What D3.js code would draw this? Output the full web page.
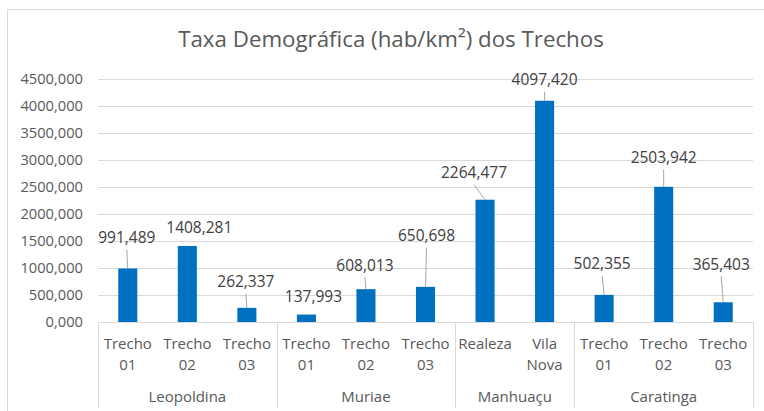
<!DOCTYPE html>
<meta charset="utf-8">
<head>
  <title>Taxa Demográfica</title>
</head>
<style>
  body {
    margin: 0;
    font-family: "Open Sans", sans-serif;
    background: #fff;
  }
  .grid line { stroke: #d9d9d9; }
  .grid .domain { display: none; }
  .ytick text { fill: #595959; font-size: 14.7px; }
  .bar { fill: #0070c0; }
  .lbl { fill: #404040; font-size: 15.5px; }
  .leader { stroke: #a6a6a6; stroke-width: 1; }
  .cat { fill: #595959; font-size: 15px; }
  .frame { stroke: #d9d9d9; fill: none; }
</style>
<body>
<svg width="764" height="411"></svg>
<script src="https://cdn.jsdelivr.net/npm/d3@7"></script>
<script>
// data
var categories = ["Trecho 01", "Trecho 02", "Trecho 03",
                  "Trecho 01", "Trecho 02", "Trecho 03",
                  "Realeza", "Vila Nova",
                  "Trecho 01", "Trecho 02", "Trecho 03"];
var groups = ["Leopoldina", "Leopoldina", "Leopoldina",
              "Muriae", "Muriae", "Muriae",
              "Manhuaçu", "Manhuaçu",
              "Caratinga", "Caratinga", "Caratinga"];
var values = [991.489, 1408.281, 262.337,
              137.993, 608.013, 650.698,
              2264.477, 4097.420,
              502.355, 2503.942, 365.403];
var yTicks = [0, 500, 1000, 1500, 2000, 2500, 3000, 3500, 4000, 4500];

// manual label placement (px from bar top centre, leader line yes/no), as in the original
var labelShift = [[-1, -31, 1], [12, -19, 0], [-1, -26, 1],
                  [7, -18, 0], [-1, -24, 1], [1, -51, 1],
                  [-11, -27, 1], [0, -21, 1],
                  [-2, -31, 1], [0, -29, 1], [-2, -38, 1]];

var ptBR = d3.formatLocale({decimal: ",", thousands: "", grouping: [3], currency: ["R$", ""]});
var fmt = ptBR.format(".3f");

var svg = d3.select("svg");
var plotLeft = 98, plotRight = 753, plotTop = 79, plotBottom = 322;

// chart border
svg.append("rect").attr("class", "frame")
  .attr("x", 7.5).attr("y", 9.5).attr("width", 780).attr("height", 420);

// title
svg.append("text")
  .attr("x", 391).attr("y", 46.5)
  .attr("text-anchor", "middle")
  .style("font-size", "22.3px").style("fill", "#595959")
  .text("Taxa Demográfica (hab/km²) dos Trechos");

var x = d3.scaleBand()
  .domain(d3.range(categories.length))
  .range([plotLeft, plotRight])
  .paddingInner(0.68)
  .paddingOuter(0.34);

var y = d3.scaleLinear().domain([0, 4500]).range([plotBottom, plotTop]);

// gridlines
svg.append("g").attr("class", "grid")
  .attr("transform", "translate(" + plotLeft + ",0)")
  .call(d3.axisLeft(y).tickValues(yTicks).tickSize(-(plotRight - plotLeft)).tickFormat(""))
  .selectAll("line").attr("shape-rendering", "crispEdges");

// y tick labels
svg.append("g").attr("class", "ytick")
  .selectAll("text").data(yTicks).enter().append("text")
  .attr("x", 83).attr("y", function(d) { return y(d); })
  .attr("dy", "0.36em")
  .attr("text-anchor", "end")
  .text(function(d) { return fmt(d); });

// bars
svg.selectAll(".bar").data(values).enter().append("rect")
  .attr("class", "bar")
  .attr("x", function(d, i) { return x(i); })
  .attr("width", x.bandwidth())
  .attr("y", function(d) { return y(d); })
  .attr("height", function(d) { return y(0) - y(d); });

// category axis: baseline + group boxes
var axisG = svg.append("g").attr("shape-rendering", "crispEdges");
axisG.append("line").attr("x1", plotLeft).attr("x2", plotRight)
  .attr("y1", plotBottom).attr("y2", plotBottom).attr("stroke", "#d9d9d9");

var groupNames = [];
groups.forEach(function(g, i) {
  if (!groupNames.length || groupNames[groupNames.length - 1].name !== g)
    groupNames.push({name: g, first: i, last: i});
  else groupNames[groupNames.length - 1].last = i;
});
var step = x.step();
var edge = function(i) { return plotLeft + i * step; };
var seps = [0].concat(groupNames.map(function(g) { return g.last + 1; }));
axisG.selectAll(".sep").data(seps).enter().append("line")
  .attr("x1", function(d) { return Math.round(edge(d)) + 0.5; })
  .attr("x2", function(d) { return Math.round(edge(d)) + 0.5; })
  .attr("y1", plotBottom).attr("y2", 408)
  .attr("stroke", "#d9d9d9");

// category labels
categories.forEach(function(c, i) {
  var parts = c.split(" ");
  var t = svg.append("text").attr("class", "cat")
    .attr("text-anchor", "middle");
  parts.forEach(function(p, k) {
    t.append("tspan")
      .attr("x", x(i) + x.bandwidth() / 2)
      .attr("y", 349 + k * 20.5)
      .text(p);
  });
});
svg.selectAll(".grp").data(groupNames).enter().append("text")
  .attr("class", "cat")
  .attr("text-anchor", "middle")
  .attr("x", function(g) { return (edge(g.first) + edge(g.last + 1)) / 2; })
  .attr("y", 402)
  .text(function(g) { return g.name; });

// data labels and leader lines
values.forEach(function(v, i) {
  var cx = x(i) + x.bandwidth() / 2, ty = y(v);
  var s = labelShift[i];
  var lx = cx + s[0], ly = ty + s[1];
  if (s[2]) {
    svg.append("line").attr("class", "leader")
      .attr("x1", lx).attr("y1", ly + 12)
      .attr("x2", cx).attr("y2", ty);
  }
  svg.append("text").attr("class", "lbl")
    .attr("x", lx).attr("y", ly)
    .attr("dy", "0.36em")
    .attr("text-anchor", "middle")
    .text(fmt(v));
});
</script>
</body>
</html>
